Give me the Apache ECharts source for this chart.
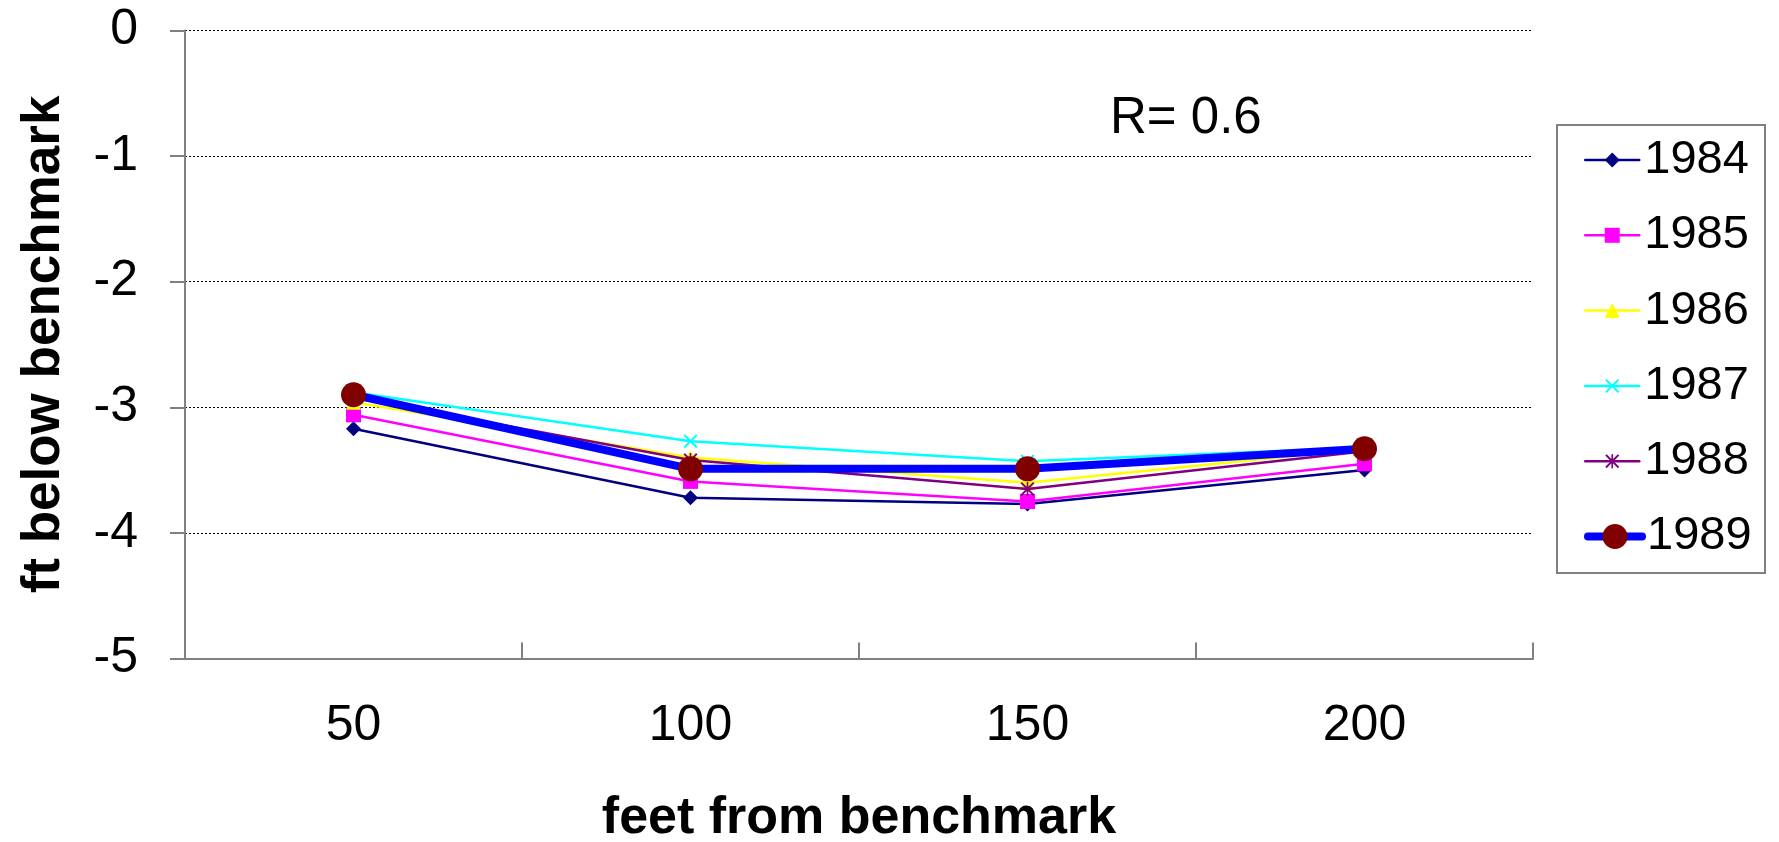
<!DOCTYPE html>
<html>
<head>
<meta charset="utf-8">
<script src="https://cdn.jsdelivr.net/npm/echarts@6/dist/echarts.min.js"></script>
<style>
  html, body { margin: 0; padding: 0; background: #ffffff; }
  #chart { width: 1779px; height: 842px; }
</style>
</head>
<body>
<div id="chart"></div>
<script>
// Distance from benchmark (ft) and elevation readings per survey year
const distances = ['50', '100', '150', '200'];
const years = ['1984', '1985', '1986', '1987', '1988', '1989'];

const y1984 = [-3.17, -3.72, -3.77, -3.50];
const y1985 = [-3.06, -3.59, -3.75, -3.45];
const y1986 = [-2.96, -3.40, -3.60, -3.33];
const y1987 = [-2.88, -3.27, -3.43, -3.32];
const y1988 = [-2.92, -3.42, -3.65, -3.35];
const y1989 = [-2.90, -3.49, -3.49, -3.33];

const annotation = 'R= 0.6';
const xTitle = 'feet from benchmark';
const yTitle = 'ft below benchmark';

const FONT = "'Liberation Sans', Arial, Helvetica, sans-serif";

// Filled glyphs for the cross and asterisk markers
const crossPath = 'path://M0,0.1L0.1,0L0.5,0.4L0.9,0L1,0.1L0.6,0.5L1,0.9L0.9,1L0.5,0.6L0.1,1L0,0.9L0.4,0.5Z';
const starPath = 'path://M0,0.1L0.1,0L0.5,0.4L0.9,0L1,0.1L0.6,0.5L1,0.9L0.9,1L0.5,0.6L0.1,1L0,0.9L0.4,0.5Z' +
                 'M0.44,0L0.56,0L0.56,1L0.44,1Z';

const seriesStyle = [
  { data: y1984, line: '#000080', mark: '#000080', width: 2.5, symbol: 'diamond', size: 15 },
  { data: y1985, line: '#FF00FF', mark: '#FF00FF', width: 2.5, symbol: 'rect', size: 15 },
  { data: y1986, line: '#FFFF00', mark: '#FFFF00', width: 2.5, symbol: 'triangle', size: 15 },
  { data: y1987, line: '#00FFFF', mark: '#00FFFF', width: 2.5, symbol: crossPath, size: 14 },
  { data: y1988, line: '#800080', mark: '#800080', width: 2.5, symbol: starPath, size: 14 },
  { data: y1989, line: '#0000FF', mark: '#800000', width: 8, symbol: 'circle', size: 25 }
];

const series = seriesStyle.map((s, i) => ({
  name: years[i],
  type: 'line',
  data: s.data,
  symbol: s.symbol,
  symbolSize: s.size,
  showAllSymbol: true,
  animation: false,
  lineStyle: { color: s.line, width: s.width, cap: 'round', join: 'round' },
  itemStyle: { color: s.mark, borderWidth: 0 },
  emphasis: { disabled: true },
  z: 2 + i
}));

// One legend row per year so each icon keeps its own marker size
const legendTop0 = 135;
const legendStep = 75.3;
const legends = seriesStyle.map((s, i) => ({
  data: [years[i]],
  left: 1584,
  top: legendTop0 + i * legendStep,
  orient: 'vertical',
  padding: 0,
  itemWidth: 54,
  itemHeight: s.size / 0.8,
  itemGap: 0,
  selectedMode: false,
  lineStyle: { width: 'inherit', cap: 'round' },
  textStyle: { fontFamily: FONT, fontSize: 47, color: '#000', lineHeight: 50 }
}));

const chart = echarts.init(document.getElementById('chart'), null, { renderer: 'canvas' });
chart.setOption({
  backgroundColor: '#ffffff',
  animation: false,
  grid: {
    left: 185, right: 246, top: 30.5, bottom: 183.5,
    containLabel: false,
    outerBoundsMode: 'none'
  },
  legend: legends,
  graphic: [
    {
      type: 'rect',
      shape: { x: 1557, y: 125, width: 208, height: 448 },
      style: { fill: 'none', stroke: '#808080', lineWidth: 2 },
      silent: true
    },
    {
      type: 'text',
      left: 1110,
      top: 93,
      style: { text: annotation, font: '51px ' + FONT, fill: '#000' },
      silent: true
    }
  ],
  xAxis: {
    type: 'category',
    data: distances,
    boundaryGap: true,
    name: xTitle,
    nameLocation: 'middle',
    nameGap: 134,
    nameTextStyle: { fontFamily: FONT, fontSize: 52, fontWeight: 'bold', color: '#000' },
    axisLine: { show: true, onZero: false, lineStyle: { color: '#808080', width: 2 } },
    axisTick: { show: true, inside: true, length: 16, lineStyle: { color: '#808080', width: 2 } },
    axisLabel: { fontFamily: FONT, fontSize: 50, color: '#000', margin: 43 },
    splitLine: { show: false }
  },
  yAxis: {
    type: 'value',
    min: -5,
    max: 0,
    interval: 1,
    name: yTitle,
    nameLocation: 'middle',
    nameRotate: 90,
    nameGap: 114,
    nameTextStyle: { fontFamily: FONT, fontSize: 53, fontWeight: 'bold', color: '#000' },
    axisLine: { show: true, lineStyle: { color: '#808080', width: 2 } },
    axisTick: { show: true, inside: false, length: 15, lineStyle: { color: '#808080', width: 2 } },
    axisLabel: { fontFamily: FONT, fontSize: 50, color: '#000', margin: 47 },
    splitLine: { show: true, lineStyle: { color: '#000000', width: 1, type: [2, 2] } }
  },
  series: series
});
</script>
</body>
</html>
